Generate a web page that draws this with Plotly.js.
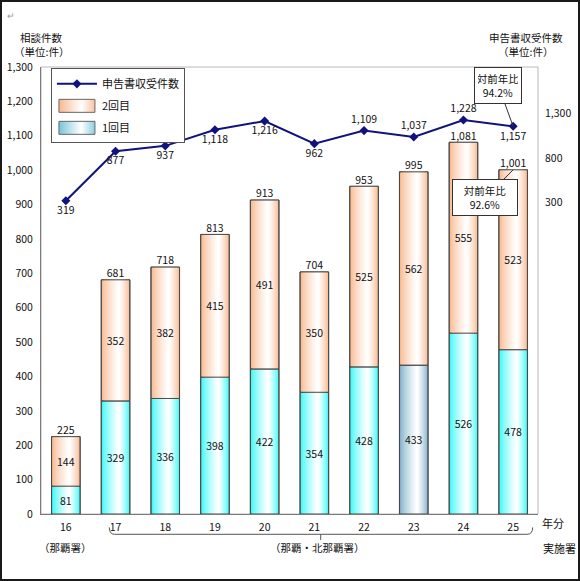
<!DOCTYPE html>
<html>
<head>
<meta charset="utf-8">
<script src="https://cdn.plot.ly/plotly-3.0.1.min.js"></script>
<style>
html,body{margin:0;padding:0;background:#fff;}
#wrap{position:relative;width:580px;height:581px;}
#chart{width:580px;height:581px;}
#frame{position:absolute;left:0;top:0;width:580px;height:581px;box-sizing:border-box;border:2px solid #1a1a1a;pointer-events:none;}
</style>
</head>
<body>
<div id="wrap"><div id="chart"></div><div id="frame"></div></div>
<script>
// ---- data ----
const years    = ['16','17','18','19','20','21','22','23','24','25'];
const first    = [81, 329, 336, 398, 422, 354, 428, 433, 526, 478];   // 1回目
const second   = [144, 352, 382, 415, 491, 350, 525, 562, 555, 523];  // 2回目
const totals   = [225, 681, 718, 813, 913, 704, 953, 995, 1081, 1001];
const filings  = [319, 877, 937, 1118, 1216, 962, 1109, 1037, 1228, 1157]; // 申告書収受件数
const filingLabelPos = ['bottom center','bottom center','bottom center','bottom center','bottom center',
                        'bottom center','top center','top center','top center','bottom center'];
const rightTickVals = [300, 800, 1300];
const rightTickText = ['300', '800', '1,300'];
const seriesNames = {line: '申告書収受件数', second: '2回目', first: '1回目'};
const ratioFilings = '対前年比<br>94.2%';
const ratioConsult = '対前年比<br>92.6%';

// ---- styling helpers ----
const FONT = "'Noto Sans CJK JP', 'Noto Sans', sans-serif";
const CYAN = [58, 248, 248];
const GRAYBLUE = [128, 176, 202];
const PEACH = [248, 184, 142];
function mix(c, t) {
  const r = Math.round(c[0] + (255 - c[0]) * t);
  const g = Math.round(c[1] + (255 - c[1]) * t);
  const b = Math.round(c[2] + (255 - c[2]) * t);
  return 'rgb(' + r + ',' + g + ',' + b + ')';
}
const BARW = 0.575;
const N = 12;
const P = 0.62; // horizontal position of the lightest part of the gradient
const traces = [];

function addGradientBars(name, vals, base, edgeColors, rank) {
  for (let k = 0; k < N; k++) {
    const t = Math.pow(k / (N - 1), 0.75);
    const left = -BARW / 2 + (k / N) * P * BARW;
    const w = BARW * (1 - k / N);
    traces.push({
      type: 'bar', x: years, y: vals, base: base,
      width: w, offset: left,
      name: name, legendgroup: name, legendrank: rank,
      showlegend: k === 0,
      marker: {color: edgeColors.map(c => mix(c, t)),
               line: {width: k === 0 ? 1 : 0, color: '#555'}},
      hoverinfo: 'skip'
    });
  }
  // outline + centred value label
  traces.push({
    type: 'bar', x: years, y: vals, base: base, width: BARW,
    showlegend: false, legendgroup: name,
    marker: {color: 'rgba(0,0,0,0)', line: {width: 1, color: '#4a4a4a'}},
    text: vals.map(v => String(v)), textposition: 'inside', insidetextanchor: 'middle',
    textangle: 0, constraintext: 'none',
    insidetextfont: {family: FONT, size: 10.5, color: '#111'},
    hoverinfo: 'skip'
  });
}

addGradientBars(seriesNames.first, first, first.map(() => 0),
                years.map(y => y === '23' ? GRAYBLUE : CYAN), 3);
addGradientBars(seriesNames.second, second, first, years.map(() => PEACH), 2);

// totals above bars
traces.push({
  type: 'scatter', mode: 'text', x: years, y: totals,
  texttemplate: '%{y:,d}', textposition: 'top center',
  textfont: {family: FONT, size: 10.5, color: '#111'},
  showlegend: false, hoverinfo: 'skip'
});

// filings line on right axis
traces.push({
  type: 'scatter', mode: 'lines+markers+text', x: years, y: filings, yaxis: 'y2',
  name: seriesNames.line, legendrank: 1, legendgroup: 'line',
  line: {color: '#12127f', width: 2},
  marker: {symbol: 'diamond', size: 7, color: '#12127f'},
  texttemplate: '%{y:,d}', textposition: filingLabelPos,
  textfont: {family: FONT, size: 10.5, color: '#111'},
  hoverinfo: 'skip'
});

const layout = {
  width: 580, height: 581,
  margin: {l: 41, r: 42, t: 67, b: 67},
  paper_bgcolor: '#fff', plot_bgcolor: '#fff',
  font: {family: FONT, size: 10.5, color: '#111'},
  barmode: 'overlay',
  showlegend: true,
  legend: {
    x: 0.02, y: 0.997, xanchor: 'left', yanchor: 'top',
    bgcolor: '#fff', bordercolor: '#555', borderwidth: 1,
    font: {family: FONT, size: 11, color: '#111'},
    traceorder: 'grouped', tracegroupgap: 3, itemwidth: 40
  },
  xaxis: {
    type: 'category', range: [-0.5, 9.5], fixedrange: true,
    showline: true, linecolor: '#7a7a7a', linewidth: 1,
    ticks: '', showgrid: false, zeroline: false,
    tickfont: {family: FONT, size: 10.5}, ticklabelstandoff: 3
  },
  yaxis: {
    range: [0, 1300], dtick: 100, tickformat: ',d', fixedrange: true,
    showline: true, linecolor: '#7a7a7a', linewidth: 1,
    ticks: '', showgrid: false, zeroline: false,
    tickfont: {family: FONT, size: 10.5}, ticklabelstandoff: 5
  },
  yaxis2: {
    overlaying: 'y', side: 'right', range: [-3209, 1825], fixedrange: true,
    tickvals: rightTickVals, ticktext: rightTickText,
    showline: false, ticks: '', showgrid: false, zeroline: false,
    tickfont: {family: FONT, size: 10.5}, ticklabelstandoff: 6
  },
  shapes: [
    {type: 'rect', xref: 'paper', yref: 'paper', x0: 0, x1: 1, y0: 0, y1: 1,
     line: {color: '#b8b8b8', width: 1}, layer: 'below'},
    {type: 'path', xref: 'paper', yref: 'paper',
     path: 'M0.1374,-0.030 Q0.1374,-0.0454 0.148,-0.0454 L0.978,-0.0454 Q0.9893,-0.0454 0.9893,-0.030 M0.5628,-0.0454 L0.5628,-0.058',
     line: {color: '#555', width: 1}}
  ],
  annotations: [
    {xref: 'paper', yref: 'paper', x: 0.002, y: 1.066, text: '相談件数', showarrow: false,
     xanchor: 'center', yanchor: 'middle', font: {size: 10.5}},
    {xref: 'paper', yref: 'paper', x: 0.0, y: 1.035, text: '（単位:件）', showarrow: false,
     xanchor: 'center', yanchor: 'middle', font: {size: 10.5}},
    {xref: 'paper', yref: 'paper', x: 0.976, y: 1.066, text: '申告書収受件数', showarrow: false,
     xanchor: 'center', yanchor: 'middle', font: {size: 10.5}},
    {xref: 'paper', yref: 'paper', x: 0.974, y: 1.035, text: '（単位:件）', showarrow: false,
     xanchor: 'center', yanchor: 'middle', font: {size: 10.5}},
    {xref: 'paper', yref: 'paper', x: -0.06, y: 1.115, text: '↵', showarrow: false,
     xanchor: 'center', yanchor: 'middle', font: {size: 9, color: '#999'}},
    {xref: 'paper', yref: 'paper', x: 1.004, y: -0.020, text: '年分', showarrow: false,
     xanchor: 'left', yanchor: 'middle', font: {size: 11}},
    {xref: 'paper', yref: 'paper', x: 1.006, y: -0.076, text: '実施署', showarrow: false,
     xanchor: 'left', yanchor: 'middle', font: {size: 11}},
    {xref: 'x', yref: 'paper', x: 0, y: -0.075, text: '（那覇署）', showarrow: false,
     xanchor: 'center', yanchor: 'middle', font: {size: 10.5}},
    {xref: 'paper', yref: 'paper', x: 0.557, y: -0.075, text: '（那覇・北那覇署）', showarrow: false,
     xanchor: 'center', yanchor: 'middle', font: {size: 10.5}},
    {xref: 'x', yref: 'y2', x: 9, y: filings[9], ax: -15, ay: -41,
     text: ratioFilings, showarrow: true, arrowhead: 0, arrowwidth: 1, arrowcolor: '#333',
     bgcolor: '#fff', bordercolor: '#333', borderwidth: 1, borderpad: 3, width: 40,
     font: {size: 10.5}, standoff: 0},
    {xref: 'x', yref: 'y', x: 9, y: totals[9], ax: -28, ay: 28,
     text: ratioConsult, showarrow: true, arrowhead: 0, arrowwidth: 1, arrowcolor: '#333',
     bgcolor: '#fff', bordercolor: '#333', borderwidth: 1, borderpad: 3, width: 58,
     font: {size: 10.5}, standoff: 0}
  ]
};

Plotly.newPlot('chart', traces, layout, {staticPlot: true, displayModeBar: false}).then(function (gd) {
  // widen the bar legend swatches and give them the same gradient look as the bars
  const svg = gd.querySelector('svg.main-svg');
  const defs = svg.querySelector('defs');
  const NS = 'http://www.w3.org/2000/svg';
  function grad(id, c) {
    const lg = document.createElementNS(NS, 'linearGradient');
    lg.setAttribute('id', id);
    [[0, mix(c, 0)], [P, 'rgb(255,255,255)'], [1, mix(c, 0.15)]].forEach(function (s) {
      const st = document.createElementNS(NS, 'stop');
      st.setAttribute('offset', s[0]);
      st.setAttribute('stop-color', s[1]);
      lg.appendChild(st);
    });
    defs.appendChild(lg);
  }
  grad('lgSecond', PEACH);
  grad('lgFirst', [120, 196, 218]);
  gd.querySelectorAll('.legend .traces').forEach(function (tr) {
    const label = tr.querySelector('.legendtext');
    const txt = label ? label.textContent : '';
    if (txt === seriesNames.second || txt === seriesNames.first) {
      tr.querySelectorAll('.legendpoints path').forEach(function (p) {
        p.setAttribute('d', 'M18,6.5H-18V-6.5H18Z');
        p.style.fill = txt === seriesNames.second ? 'url(#lgSecond)' : 'url(#lgFirst)';
        p.style.stroke = '#666';
        p.style.strokeWidth = '1px';
      });
    }
  });
});
</script>
</body>
</html>
